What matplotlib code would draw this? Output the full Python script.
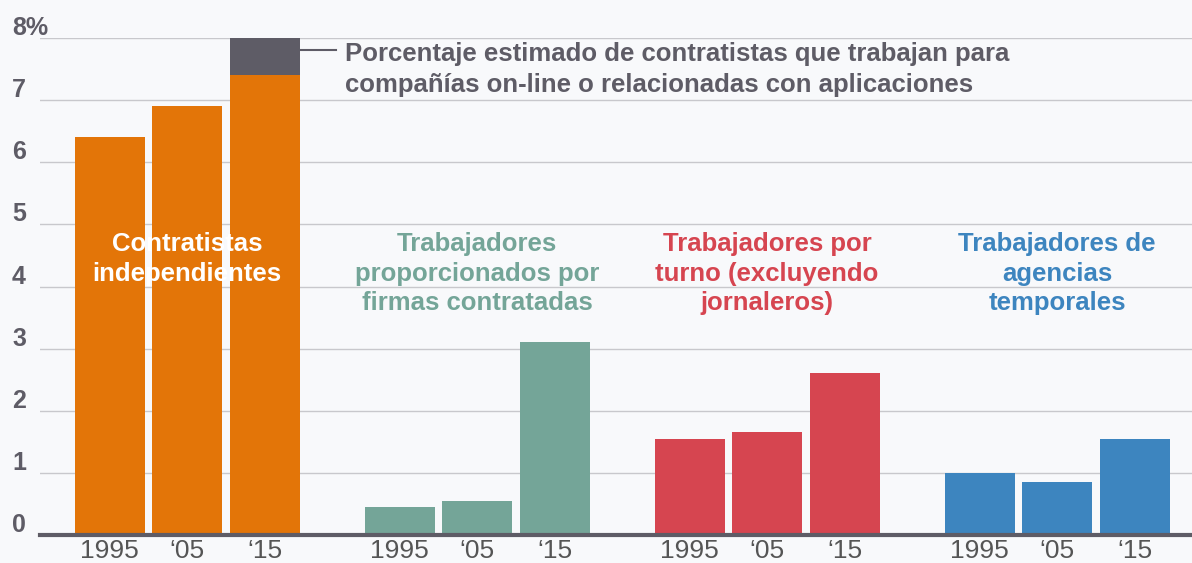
import numpy as np
import matplotlib
matplotlib.use("Agg")
import matplotlib.pyplot as plt
import matplotlib.transforms as mtransforms

plt.rcParams['font.family'] = ['Liberation Sans', 'DejaVu Sans']

# datos
years = ["1995", "\u201805", "\u201815"]
contratistas = [6.4, 6.9, 7.4]
online_extra = 0.6   # parte gris sobre la barra de 2015
firmas = [0.45, 0.55, 3.1]
turno = [1.55, 1.65, 2.6]
agencias = [1.0, 0.85, 1.55]

groups = [contratistas, firmas, turno, agencias]
group_labels = ["Contratistas\nindependientes",
                "Trabajadores\nproporcionados por\nfirmas contratadas",
                "Trabajadores por\nturno (excluyendo\njornaleros)",
                "Trabajadores de\nagencias\ntemporales"]
colors = ["#E37508", "#74A598", "#D64550", "#3D85BF"]
label_colors = ["white", "#74A598", "#D64550", "#3D85BF"]
gray = "#5E5C66"
ytick_labels = [str(i) for i in range(8)] + ["8%"]

fig = plt.figure(figsize=(11.92, 5.63), dpi=100)
fig.patch.set_facecolor("#F8F9FB")
ax = fig.add_axes([40/1192, 1-535/563, 1-40/1192, (535-38)/563])
ax.set_facecolor("none")

pitch = 77.5
gstep = 290
x0 = 109.5
width = 70
xt = []
for g, vals in enumerate(groups):
    xs = x0 + g*gstep + np.arange(3)*pitch
    ax.bar(xs, vals, width=width, color=colors[g], zorder=3)
    xt.extend(xs)
    ax.text(xs[1], 4.88, group_labels[g], ha="center", va="top",
            fontsize=18.5, fontweight="bold", color=label_colors[g],
            linespacing=1.3, zorder=4)

# parte on-line
x15 = x0 + 2*pitch
ax.bar(x15, online_extra, bottom=contratistas[2], width=width, color=gray, zorder=3)
ax.plot([x15 + width/2, x15 + width/2 + 36], [7.8, 7.8], color=gray, lw=1.5, clip_on=False)
ax.text(345, 7.49, "Porcentaje estimado de contratistas que trabajan para\n"
        "compañías on-line o relacionadas con aplicaciones",
        ha="left", va="center", fontsize=18.5, fontweight="bold", color=gray,
        linespacing=1.36)

ax.set_xlim(40, 1192)
ax.set_ylim(0, 8)
ax.set_yticks(range(9))
ax.yaxis.grid(True, color="#C8C8CC", lw=1, zorder=0)
ax.set_yticklabels([])
ax.tick_params(axis="y", length=0)
# etiquetas del eje y sobre las lineas de la cuadricula
trans = mtransforms.blended_transform_factory(fig.transFigure, ax.transData)
trans = trans + mtransforms.ScaledTranslation(0, 3/100, fig.dpi_scale_trans)
for v, lab in zip(range(9), ytick_labels):
    ax.text(12/1192, v, lab, transform=trans, ha="left", va="baseline",
            fontsize=18, fontweight="bold", color=gray, clip_on=False)
ax.set_xticks(xt)
ax.set_xticklabels(years*4, fontsize=19, color="#555555")
ax.tick_params(axis="x", length=0, pad=3)
for s in ["top", "right", "left"]:
    ax.spines[s].set_visible(False)
ax.spines["bottom"].set_color(gray)
ax.spines["bottom"].set_linewidth(3)
ax.spines["bottom"].set_zorder(5)

fig.savefig("out.png", dpi=100, facecolor=fig.get_facecolor())
